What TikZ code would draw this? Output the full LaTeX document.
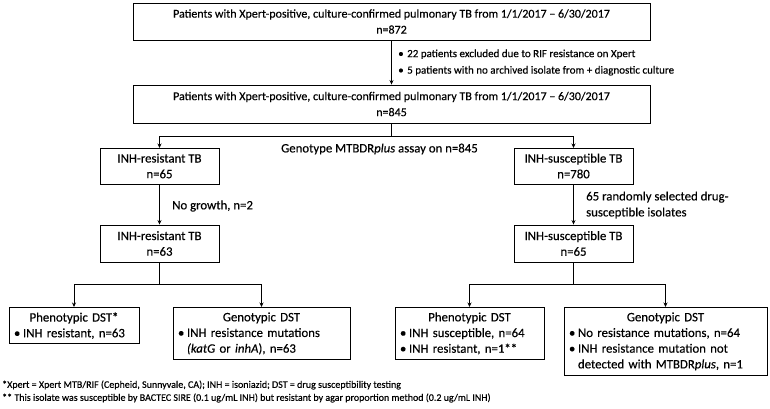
\documentclass[tikz,border=0pt]{standalone}
\usepackage{fontspec}
\setmainfont{Carlito}[FakeBold=0.3]
\usetikzlibrary{arrows.meta}

\newcommand{\blt}{\makebox[9pt][l]{\textbullet}}
\newcommand{\bltind}{\hspace*{9pt}}

\tikzset{
    box/.style={draw, line width=0.9pt, inner sep=0pt, align=center,
        font=\fontsize{12.8}{15.7}\selectfont},
    headbox/.style={box, font=\fontsize{12}{16}\selectfont},
    listbox/.style={draw, line width=0.9pt, inner xsep=5pt, inner ysep=5pt, align=left,
        anchor=north, font=\fontsize{12.8}{15.7}\selectfont},
    arr/.style={-{Stealth[length=4.5pt,width=4pt]}, line width=0.9pt},
    lbl/.style={inner sep=0pt, anchor=west, align=left,
        font=\fontsize{12.8}{16}\selectfont},
    note/.style={inner sep=0pt, anchor=west, align=left,
        font=\fontsize{10}{12}\selectfont}
}

\begin{document}
\begin{tikzpicture}[x=1pt, y=-1pt]
    \useasboundingbox (0,0) rectangle (770,408);

    % Cohort
    \node[headbox, minimum width=517, minimum height=37] (all872) at (391.5,21.5)
        {Patients with Xpert-positive, culture-confirmed pulmonary TB from 1/1/2017 -- 6/30/2017\\n=872};
    \node[headbox, minimum width=517, minimum height=38] (all845) at (391.5,104)
        {Patients with Xpert-positive, culture-confirmed pulmonary TB from 1/1/2017 -- 6/30/2017\\n=845};
    \node[lbl, font=\fontsize{11}{16.5}\selectfont] (excl) at (398,62.5)
        {\blt22 patients excluded due to RIF resistance on Xpert\\
         \blt5 patients with no archived isolate from + diagnostic culture};

    \draw[arr] (all872) -- (all845);

    % Genotype split
    \node[lbl] (assay) at (281,149) {Genotype MTBDR\textit{plus} assay on n=845};
    \draw (all845.south) -- ++(0,13) coordinate (split1);
    \draw[arr] (split1) -| (159.5,148);
    \draw[arr] (split1) -| (573.5,148);

    % INH-resistant arm
    \node[box, minimum width=119, minimum height=36] (res65) at (159.5,166)
        {INH-resistant TB\\n=65};
    \node[box, minimum width=119, minimum height=37] (res63) at (159.5,243.5)
        {INH-resistant TB\\n=63};
    \node[lbl] (nogrowth) at (172,206) {No growth, n=2};
    \draw[arr] (res65) -- (res63);

    % INH-susceptible arm
    \node[box, minimum width=119, minimum height=36] (sus780) at (573.5,166)
        {INH-susceptible TB\\n=780};
    \node[box, minimum width=119, minimum height=37] (sus65) at (573.5,243.5)
        {INH-susceptible TB\\n=65};
    \node[lbl] (random) at (586,205) {65 randomly selected drug-\\susceptible isolates};
    \draw[arr] (sus780) -- (sus65);

    % DST boxes
    \node[listbox, text width=120] (phenoR) at (74,307)
        {{\centering Phenotypic DST*\par}
         \blt INH resistant, n=63};
    \node[listbox, text width=167] (genoR) at (261.5,307)
        {{\centering Genotypic DST\par}
         \blt INH resistance mutations\\
         \bltind\textit{(katG} or \textit{inhA}), n=63};
    \node[listbox, text width=139] (phenoS) at (469.5,307)
        {{\centering Phenotypic DST\par}
         \blt INH susceptible, n=64\\
         \blt INH resistant, n=1**};
    \node[listbox, text width=193] (genoS) at (665.5,307)
        {{\centering Genotypic DST\par}
         \blt No resistance mutations, n=64\\
         \blt INH resistance mutation not\\
         \bltind detected with MTBDR\textit{plus}, n=1};

    \draw (res63.south) -- ++(0,22) coordinate (split2);
    \draw[arr] (split2) -| (phenoR.north);
    \draw[arr] (split2) -| (genoR.north);
    \draw (sus65.south) -- ++(0,22) coordinate (split3);
    \draw[arr] (split3) -| (phenoS.north);
    \draw[arr] (split3) -| (genoS.north);

    % Footnotes
    \node[note] (fn1) at (2,385)
        {*Xpert = Xpert MTB/RIF (Cepheid, Sunnyvale, CA); INH = isoniazid; DST = drug susceptibility testing};
    \node[note] (fn2) at (2,398)
        {** This isolate was susceptible by BACTEC SIRE (0.1 ug/mL INH) but resistant by agar proportion method (0.2 ug/mL INH)};
\end{tikzpicture}
\end{document}
